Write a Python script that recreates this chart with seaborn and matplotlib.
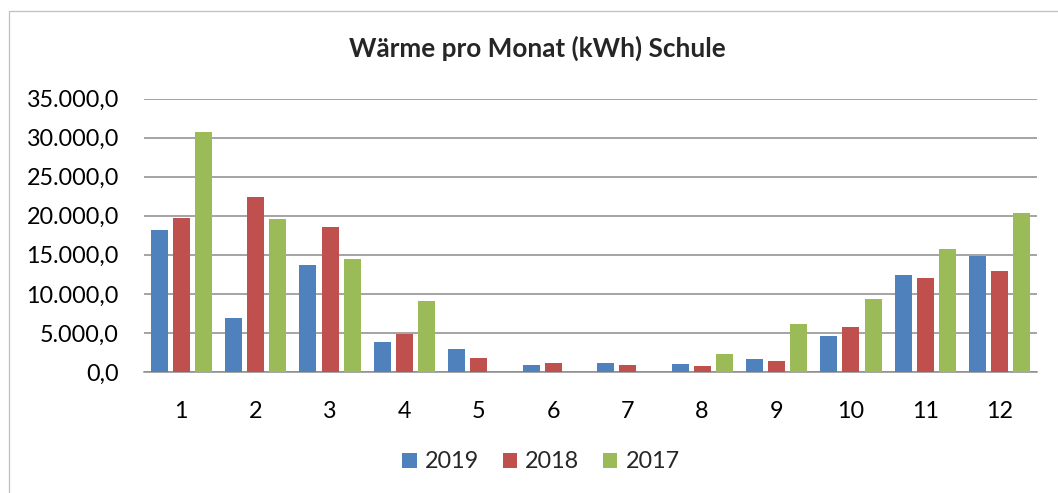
import matplotlib
matplotlib.use("Agg")
import matplotlib.pyplot as plt
from matplotlib.lines import Line2D
import seaborn as sns
import pandas as pd

months = [1, 2, 3, 4, 5, 6, 7, 8, 9, 10, 11, 12]
years = ["2019", "2018", "2017"]
v2019 = [18200, 6900, 13750, 3900, 3000, 900, 1100, 1000, 1700, 4650, 12400, 14800]
v2018 = [19650, 22350, 18550, 4800, 1750, 1100, 900, 800, 1450, 5750, 12000, 12950]
v2017 = [30750, 19550, 14400, 9100, 0, 0, 0, 2350, 6100, 9300, 15800, 20300]
colors = ["#4F81BD", "#C0504D", "#9BBB59"]
y_ticks = [0, 5000, 10000, 15000, 20000, 25000, 30000, 35000]
y_labels = ["0,0", "5.000,0", "10.000,0", "15.000,0", "20.000,0",
            "25.000,0", "30.000,0", "35.000,0"]
title = "Wärme pro Monat (kWh) Schule"

rows = []
for yr, vals in zip(years, [v2019, v2018, v2017]):
    for m, v in zip(months, vals):
        rows.append({"Monat": str(m), "Jahr": yr, "kWh": v})
df = pd.DataFrame(rows)

sns.set_theme(style="white")
plt.rcParams["font.family"] = ["Lato", "DejaVu Sans"]

W, H = 1058, 493
fig = plt.figure(figsize=(W / 100, H / 100), dpi=100)
ax = fig.add_axes([144 / W, 1 - 372 / H, (1037 - 144) / W, (372 - 98.5) / H])

sns.barplot(data=df, x="Monat", y="kWh", hue="Jahr", hue_order=years,
            palette=colors, width=0.89, gap=0.23, saturation=1,
            errorbar=None, ax=ax, zorder=3, linewidth=0)

ax.set_ylim(0, 35000)
ax.set_xlim(-0.5, 11.5)
ax.set_yticks(y_ticks)
ax.set_yticklabels(y_labels)
ax.yaxis.grid(True, color="#8C8C8C", linewidth=1.1, zorder=0)
ax.set_axisbelow(True)
for s in ["left", "right", "top"]:
    ax.spines[s].set_visible(False)
ax.spines["bottom"].set_color("#8C8C8C")
ax.spines["bottom"].set_linewidth(1.1)
ax.tick_params(axis="both", length=0, labelsize=16.8, colors="black")
ax.tick_params(axis="y", pad=18)
ax.tick_params(axis="x", pad=21)
ax.set_xlabel("")
ax.set_ylabel("")

leg = ax.get_legend()
handles = leg.legend_handles
leg.remove()
fig.legend(handles, years, loc="center", bbox_to_anchor=(541 / W, 1 - 462 / H),
           ncol=3, frameon=False, fontsize=16.8, handlelength=0.62,
           handleheight=0.62, handletextpad=0.35, columnspacing=1.0)

fig.text(537 / W, 1 - 48 / H, title, ha="center", va="center",
         fontsize=18.8, fontweight="bold")

border = "#BFBFBF"
fig.add_artist(Line2D([8.5 / W, 8.5 / W], [0, 1 - 11 / H], color=border,
                      linewidth=0.9, transform=fig.transFigure))
fig.add_artist(Line2D([8.5 / W, 1], [1 - 11 / H, 1 - 11 / H], color=border,
                      linewidth=0.9, transform=fig.transFigure))

fig.savefig("out.png", dpi=100, facecolor="white")
